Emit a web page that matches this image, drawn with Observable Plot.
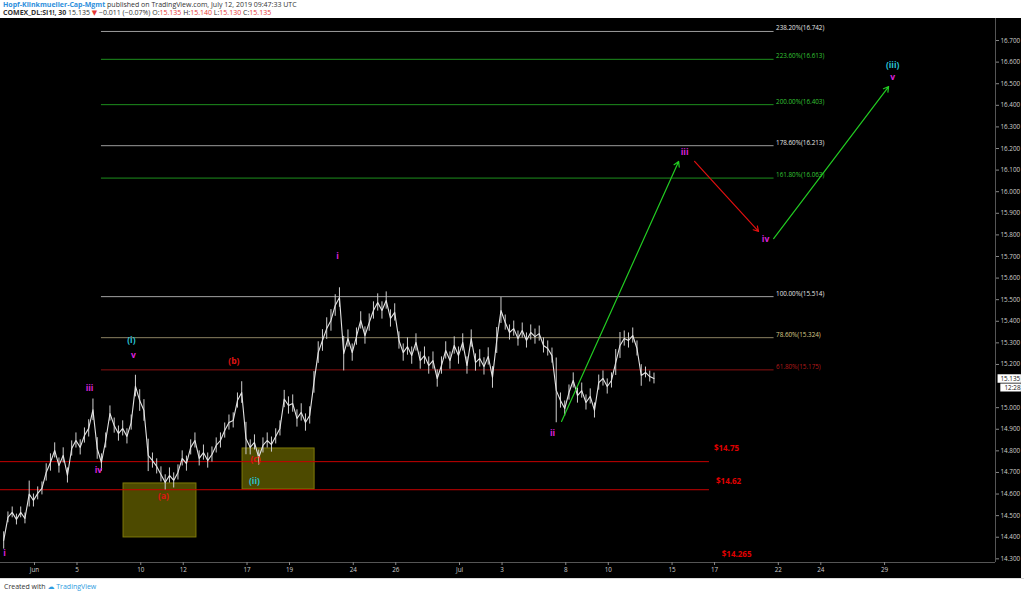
<!DOCTYPE html>
<html><head><meta charset="utf-8">
<script src="https://cdn.jsdelivr.net/npm/d3@7"></script>
<script src="https://cdn.jsdelivr.net/npm/@observablehq/plot@0.6"></script>
<style>
html,body{margin:0;padding:0;background:#fff;width:1024px;height:593px;overflow:hidden;font-family:"Open Sans","DejaVu Sans",sans-serif;}
#head{height:18px;font-size:7px;line-height:8px;padding-left:3px;color:#333;padding-top:1px;box-sizing:border-box;white-space:nowrap}
#head .u{color:#2e8fdc;font-weight:bold}
#head .r{color:#e53935}
#chart{height:560px;width:1021px;overflow:hidden}
#foot{font-size:7px;color:#333;padding-left:4px;padding-top:3px;border-top:1px solid #ddd;width:1021px}
#foot .t{color:#2e9be0}
</style></head><body>
<div id="head"><div><span class="u">Hopf-Klinkmueller-Cap-Mgmt</span> published on TradingView.com, July 12, 2019 09:47:33 UTC</div>
<div><b>COMEX_DL:SI1!, 30</b> 15.135 <span class="r">▼</span> −0.011 (−0.07%) O:<span class="r">15.135</span> H:<span class="r">15.140</span> L:<span class="r">15.130</span> C:<span class="r">15.135</span></div></div>
<div id="chart"></div>
<div id="foot">Created with <span class="t">☁ TradingView</span></div>
<script>
// ---- data ----
// 30-minute silver futures, sampled every 0.2 trading day (day 0 = Mon Jun 3)
const seriesStartDay = -1.45;
const seriesStepDay = 0.2;
// mid price of each sample
const prices = [14.385,14.492,14.515,14.482,14.515,14.487,14.600,14.570,14.603,14.626,
14.700,14.746,14.802,14.732,14.779,14.686,14.811,14.848,14.816,14.871,
14.904,14.990,14.811,14.746,14.848,14.973,14.917,14.880,14.904,14.867,
14.931,15.100,15.033,14.987,14.779,14.755,14.728,14.691,14.654,14.686,
14.663,14.700,14.765,14.741,14.816,14.848,14.765,14.792,14.755,14.783,
14.825,14.848,14.894,14.931,14.941,15.033,15.070,14.857,14.816,14.839,
14.769,14.825,14.848,14.829,14.867,14.904,15.040,15.010,15.019,14.950,
14.978,14.931,14.964,15.117,15.255,15.311,15.366,15.404,15.473,15.510,
15.250,15.320,15.255,15.329,15.404,15.334,15.394,15.450,15.487,15.450,
15.496,15.413,15.441,15.311,15.255,15.283,15.241,15.302,15.218,15.241,
15.195,15.218,15.135,15.195,15.265,15.218,15.288,15.241,15.302,15.195,
15.320,15.209,15.228,15.191,15.237,15.140,15.311,15.450,15.394,15.348,
15.366,15.320,15.357,15.311,15.348,15.329,15.343,15.288,15.274,15.241,
15.080,15.033,14.996,15.070,15.126,15.056,15.079,15.024,15.052,14.987,
15.116,15.135,15.098,15.126,15.209,15.288,15.320,15.311,15.334,15.274,
15.149,15.163,15.144,15.135];
// estimated bar high-low spread around each sample (dollars)
const spreads = [0.08,0.05,0.05,0.05,0.05,0.05,0.12,0.06,0.06,0.06,
0.08,0.08,0.07,0.07,0.07,0.07,0.07,0.07,0.07,0.07,
0.08,0.10,0.10,0.08,0.07,0.07,0.07,0.07,0.07,0.07,
0.07,0.10,0.10,0.10,0.15,0.07,0.07,0.07,0.07,0.07,
0.07,0.07,0.07,0.07,0.07,0.07,0.07,0.07,0.07,0.07,
0.07,0.07,0.07,0.07,0.07,0.07,0.10,0.15,0.07,0.07,
0.07,0.07,0.07,0.07,0.07,0.07,0.08,0.08,0.08,0.08,
0.08,0.08,0.08,0.10,0.10,0.10,0.10,0.10,0.10,0.09,
0.16,0.08,0.08,0.08,0.08,0.08,0.08,0.08,0.08,0.08,
0.08,0.08,0.08,0.08,0.08,0.08,0.08,0.08,0.08,0.08,
0.08,0.08,0.08,0.08,0.08,0.08,0.08,0.08,0.08,0.08,
0.08,0.08,0.08,0.08,0.08,0.10,0.12,0.12,0.07,0.07,
0.07,0.07,0.07,0.07,0.07,0.07,0.07,0.07,0.07,0.07,
0.30,0.07,0.07,0.07,0.07,0.07,0.07,0.07,0.07,0.07,
0.07,0.07,0.07,0.07,0.12,0.12,0.07,0.07,0.07,0.07,
0.10,0.05,0.05,0.05];
const lastPrice = 15.135;
const countdown = "12:28";

const dayTicks = [0,2,5,7,10,12,15,17,20,22,25,27,30,32,35,37,40];
const dayLabels = ["Jun","5","10","12","17","19","24","26","Jul","3","8","10","15","17","22","24","29"];
// 15.100 is hidden behind the countdown tag in the reference
const priceTicks = [14.3,14.4,14.5,14.6,14.7,14.8,14.9,15.0,15.2,15.3,15.4,15.5,15.6,15.7,15.8,15.9,16.0,16.1,16.2,16.3,16.4,16.5,16.6,16.7];

const fibRatios = ["238.20%","223.60%","200.00%","178.60%","161.80%","100.00%","78.60%","61.80%"];
const fibPrices = [16.742,16.613,16.403,16.213,16.063,15.514,15.324,15.175];
const fibKinds = ["ext","target","target","ext","target","base","mid","low"];
const fibFromDay = 3.15, fibToDay = 34.8;

const supportPrices = [14.75, 14.62, 14.265];
const supportLabelPrices = [14.81, 14.658, 14.32];
const supportLabelDays = [32.56, 32.66, 33.04];
const supportToDay = 31.76;

const boxDay1 = [4.19, 9.79], boxDay2 = [7.62, 13.18];
const boxLow = [14.399, 14.621], boxHigh = [14.649, 14.811];

const arrowDay1 = [24.8, 31.06, 34.78], arrowPrice1 = [14.936, 16.140, 15.783];
const arrowDay2 = [30.31, 34.07, 40.19], arrowPrice2 = [16.140, 15.816, 16.487];
const arrowDir = ["up","down","up"];

const waveText = ["i","iii","iv","(i)","v","(a)","(b)","(c)","(ii)","i","ii","iii","iv","(iii)","v"];
const waveDay = [-1.41,2.59,3.01,4.56,4.66,6.07,9.38,10.4,10.35,14.26,24.38,30.59,34.4,40.38,40.38];
const wavePrice = [14.325,15.089,14.709,15.311,15.242,14.589,15.214,14.76,14.658,15.70,14.88,16.181,15.779,16.584,16.529];
const waveDegree = ["minor","minor","minor","inter","minor","corr","corr","corr","inter","minor","minor","minor","minor","inter","minor"];

// ---- tables ----
const series = prices.map((p, i) => ({day: seriesStartDay + i * seriesStepDay, price: p, lo: p - spreads[i] / 2, hi: p + spreads[i] / 2}));
const fibs = fibPrices.map((p, i) => ({price: p, ratio: fibRatios[i], kind: fibKinds[i]}));
const supports = supportPrices.map((p, i) => ({price: p, labelPrice: supportLabelPrices[i], labelDay: supportLabelDays[i]}));
const boxes = boxDay1.map((d, i) => ({d1: d, d2: boxDay2[i], p1: boxLow[i], p2: boxHigh[i]}));
const arrows = arrowDay1.map((d, i) => ({d1: d, p1: arrowPrice1[i], d2: arrowDay2[i], p2: arrowPrice2[i], dir: arrowDir[i]}));
const waves = waveText.map((t, i) => ({text: t, day: waveDay[i], price: wavePrice[i], degree: waveDegree[i]}));
const labelOf = new Map(dayTicks.map((d, i) => [d, dayLabels[i]]));

const fibLine = {ext: "#9c9c9c", target: "#1d8f1d", base: "#a3a3a3", mid: "#8c8262", low: "#8a1212"};
const fibText = {ext: "#e6e6e6", target: "#35c435", base: "#e6e6e6", mid: "#dccb8a", low: "#b51a1a"};
const waveColor = {minor: "#dd22dd", inter: "#28c4d8", corr: "#e01414"};

const xDomain = [-1.6, 45.22];
const yDomain = [14.283, 16.802];
const font = "'Open Sans','DejaVu Sans',sans-serif";

const chart = Plot.plot({
  width: 1021, height: 560,
  marginTop: 0, marginLeft: 0, marginRight: 26, marginBottom: 16,
  x: {domain: xDomain, axis: null},
  y: {domain: yDomain, axis: null},
  style: {background: "#000", fontFamily: font, overflow: "visible"},
  marks: [
    Plot.rect(boxes, {x1: "d1", x2: "d2", y1: "p1", y2: "p2", fill: "#4d4a00", stroke: "#7f7a08", strokeWidth: 1}),
    Plot.ruleY(fibs, {y: "price", x1: fibFromDay, x2: fibToDay, stroke: d => fibLine[d.kind], strokeWidth: 1}),
    Plot.text(fibs, {x: fibToDay, y: "price", text: d => `${d.ratio}(${d.price.toFixed(3)})`, dx: 2, dy: -3, textAnchor: "start", fontSize: 6.3, fill: d => fibText[d.kind]}),
    Plot.ruleY(supports, {y: "price", x1: xDomain[0], x2: supportToDay, stroke: "#c80000", strokeWidth: 1, clip: true}),
    Plot.text(supports, {x: "labelDay", y: "labelPrice", text: d => "$" + d.price, fontSize: 8, fontWeight: "bold", fill: "#e00000"}),
    Plot.ruleX(series, {x: "day", y1: "lo", y2: "hi", stroke: "#cfcfcf", strokeWidth: 1}),
    Plot.line(series, {x: "day", y: "price", stroke: "#e4e4e4", strokeWidth: 1.1}),
    Plot.arrow(arrows, {x1: "d1", y1: "p1", x2: "d2", y2: "p2", stroke: d => d.dir === "up" ? "#22cc22" : "#e01010", strokeWidth: 1.2, headLength: 7}),
    Plot.text(waves, {x: "day", y: "price", text: "text", fontSize: 8.5, fontWeight: "bold", fill: d => waveColor[d.degree]}),
    Plot.ruleY([yDomain[0]], {stroke: "#555"}),
    Plot.ruleX([xDomain[1]], {stroke: "#555"}),
    Plot.axisY(priceTicks, {anchor: "right", tickFormat: d3.format(".3f"), tickSize: 3, tickPadding: 2, fontSize: 6.3, fill: "#cfcfcf", stroke: "#888", label: null}),
    Plot.axisX(dayTicks, {anchor: "bottom", tickFormat: d => labelOf.get(d), tickSize: 3, tickPadding: 2, fontSize: 6.3, fill: "#cfcfcf", stroke: "#888", label: null}),
    Plot.ruleY([lastPrice], {x1: xDomain[1] + 0.12, x2: xDomain[1] + 1.22, stroke: "#fff", strokeWidth: 8.5}),
    Plot.ruleY([lastPrice], {x1: xDomain[1] + 0.25, x2: xDomain[1] + 1.22, stroke: "#fff", strokeWidth: 8, dy: 9}),
    Plot.text([lastPrice], {x: xDomain[1], y: d => d, text: d => d3.format(".3f")(d), dx: 5, textAnchor: "start", fontSize: 6.3, fill: "#111"}),
    Plot.text([countdown], {x: xDomain[1], y: () => lastPrice, text: d => d, dx: 9, dy: 9, textAnchor: "start", fontSize: 6.3, fill: "#111"})
  ]
});
document.getElementById("chart").appendChild(chart);
</script>
</body></html>
